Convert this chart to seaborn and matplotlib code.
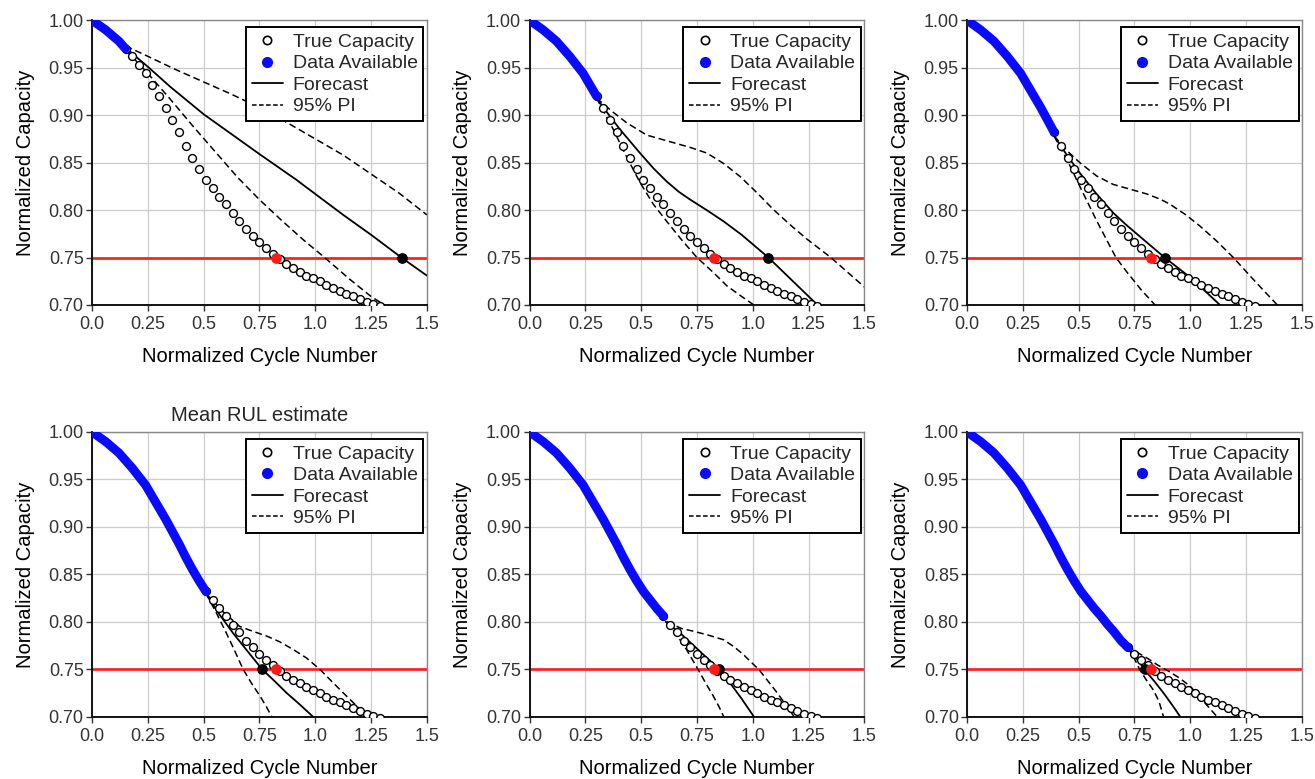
import numpy as np
import pandas as pd
import matplotlib
matplotlib.use("Agg")
import matplotlib.pyplot as plt
from matplotlib.lines import Line2D
import seaborn as sns

# ------------------------------------------------------------
# data
# ------------------------------------------------------------
TRUE_X = [0.00, 0.03, 0.06, 0.09, 0.12, 0.15, 0.18, 0.21, 0.24, 0.27,
          0.30, 0.33, 0.36, 0.39, 0.42, 0.45, 0.48, 0.51, 0.54, 0.57,
          0.60, 0.63, 0.66, 0.69, 0.72, 0.75, 0.78, 0.81, 0.84, 0.87,
          0.90, 0.93, 0.96, 0.99, 1.02, 1.05, 1.08, 1.11, 1.14, 1.17,
          1.20, 1.23, 1.26, 1.29]
TRUE_Y = [1.000, 0.995, 0.990, 0.984, 0.978, 0.970, 0.962, 0.953, 0.944, 0.932,
          0.920, 0.908, 0.895, 0.882, 0.868, 0.855, 0.843, 0.832, 0.823, 0.814,
          0.806, 0.797, 0.789, 0.780, 0.773, 0.766, 0.760, 0.754, 0.748, 0.743,
          0.739, 0.735, 0.731, 0.728, 0.725, 0.721, 0.718, 0.715, 0.712, 0.709,
          0.706, 0.703, 0.701, 0.699]

# last cycle with data available, one per panel
CUTOFF = [0.15, 0.30, 0.39, 0.51, 0.60, 0.72]

THRESHOLD = 0.75
TRUE_EOL = 0.826          # true end of life (red dot)
MEAN_EOL = [1.39, 1.07, 0.885, 0.762, 0.85, 0.795]   # forecast end of life (black dot)

FORECAST_X = [
    [0.15, 0.25, 0.35, 0.50, 0.625, 0.75, 0.915, 1.00, 1.125, 1.25, 1.386, 1.50],
    [0.30, 0.35, 0.405, 0.495, 0.555, 0.615, 0.67, 0.72, 0.80, 0.87, 0.95, 1.07, 1.18, 1.29],
    [0.39, 0.45, 0.505, 0.58, 0.655, 0.715, 0.775, 0.885, 0.94, 1.00, 1.065, 1.133],
    [0.51, 0.57, 0.632, 0.70, 0.762, 0.82, 0.872, 0.93, 0.99],
    [0.61, 0.675, 0.735, 0.79, 0.85, 0.90, 0.95, 1.005],
    [0.715, 0.757, 0.797, 0.84, 0.88, 0.92, 0.955],
]
FORECAST_Y = [
    [0.971, 0.951, 0.930, 0.901, 0.880, 0.859, 0.832, 0.817, 0.795, 0.774, 0.750, 0.731],
    [0.918, 0.902, 0.885, 0.860, 0.844, 0.830, 0.819, 0.811, 0.799, 0.788, 0.774, 0.750, 0.725, 0.700],
    [0.878, 0.857, 0.839, 0.817, 0.797, 0.784, 0.772, 0.750, 0.740, 0.729, 0.715, 0.700],
    [0.830, 0.808, 0.788, 0.768, 0.750, 0.737, 0.725, 0.713, 0.700],
    [0.800, 0.788, 0.775, 0.763, 0.750, 0.735, 0.719, 0.700],
    [0.774, 0.762, 0.749, 0.737, 0.725, 0.712, 0.700],
]

UPPER_X = [
    [0.15, 0.25, 0.375, 0.50, 0.625, 0.75, 0.875, 1.00, 1.125, 1.25, 1.375, 1.50],
    [0.30, 0.375, 0.435, 0.525, 0.645, 0.72, 0.795, 0.87, 0.945, 1.02, 1.095, 1.17, 1.245, 1.35, 1.50],
    [0.39, 0.45, 0.505, 0.58, 0.655, 0.73, 0.805, 0.87, 0.91, 0.98, 1.044, 1.12, 1.193, 1.29, 1.39],
    [0.51, 0.58, 0.662, 0.72, 0.782, 0.84, 0.90, 0.96, 1.02, 1.075, 1.126, 1.20, 1.24],
    [0.615, 0.68, 0.735, 0.80, 0.87, 0.92, 0.96, 1.03, 1.07, 1.11, 1.15, 1.185],
    [0.72, 0.76, 0.805, 0.85, 0.895, 0.95, 1.00, 1.06, 1.12],
]
UPPER_Y = [
    [0.973, 0.962, 0.948, 0.935, 0.922, 0.908, 0.892, 0.875, 0.858, 0.838, 0.818, 0.795],
    [0.918, 0.903, 0.892, 0.879, 0.871, 0.866, 0.860, 0.849, 0.835, 0.818, 0.800, 0.784, 0.769, 0.750, 0.719],
    [0.878, 0.862, 0.850, 0.836, 0.827, 0.822, 0.817, 0.811, 0.806, 0.795, 0.783, 0.767, 0.750, 0.725, 0.700],
    [0.830, 0.812, 0.795, 0.790, 0.785, 0.779, 0.771, 0.762, 0.750, 0.737, 0.725, 0.708, 0.700],
    [0.800, 0.793, 0.790, 0.786, 0.781, 0.773, 0.765, 0.749, 0.737, 0.725, 0.712, 0.700],
    [0.775, 0.768, 0.762, 0.755, 0.749, 0.741, 0.732, 0.716, 0.700],
]

LOWER_X = [
    [0.15, 0.25, 0.35, 0.45, 0.55, 0.65, 0.75, 0.85, 0.95, 1.042, 1.15, 1.25, 1.31],
    [0.30, 0.375, 0.435, 0.495, 0.555, 0.615, 0.68, 0.75, 0.82, 0.885, 0.95, 1.005],
    [0.39, 0.45, 0.505, 0.58, 0.62, 0.667, 0.715, 0.78, 0.842],
    [0.51, 0.56, 0.602, 0.64, 0.677, 0.715, 0.752, 0.78, 0.805],
    [0.615, 0.66, 0.705, 0.757, 0.79, 0.825, 0.85, 0.87],
    [0.72, 0.75, 0.775, 0.805, 0.835, 0.86, 0.88],
]
LOWER_Y = [
    [0.969, 0.944, 0.917, 0.889, 0.862, 0.835, 0.811, 0.789, 0.768, 0.750, 0.728, 0.709, 0.700],
    [0.918, 0.885, 0.856, 0.829, 0.806, 0.788, 0.769, 0.750, 0.735, 0.720, 0.709, 0.700],
    [0.878, 0.852, 0.825, 0.789, 0.771, 0.750, 0.735, 0.716, 0.700],
    [0.830, 0.808, 0.788, 0.769, 0.750, 0.735, 0.722, 0.711, 0.700],
    [0.800, 0.786, 0.770, 0.749, 0.735, 0.721, 0.710, 0.700],
    [0.773, 0.761, 0.749, 0.738, 0.728, 0.716, 0.700],
]

X_TICKS = [0.0, 0.25, 0.5, 0.75, 1.0, 1.25, 1.5]
X_TICK_LABELS = ['0.0', '0.25', '0.5', '0.75', '1.0', '1.25', '1.5']
Y_TICKS = [0.70, 0.75, 0.80, 0.85, 0.90, 0.95, 1.00]
Y_TICK_LABELS = ['0.70', '0.75', '0.80', '0.85', '0.90', '0.95', '1.00']

# ------------------------------------------------------------
# style
# ------------------------------------------------------------
sns.set_theme(style="whitegrid")
plt.rcParams['font.family'] = ['Liberation Sans', 'DejaVu Sans']
plt.rcParams['axes.unicode_minus'] = False

true_df = pd.DataFrame({'x': TRUE_X, 'y': TRUE_Y})

fig, axes = plt.subplots(2, 3, figsize=(13.15, 7.79), dpi=100)
fig.subplots_adjust(left=0.070, right=0.990, top=0.974, bottom=0.080, wspace=0.307, hspace=0.446)

for i, ax in enumerate(axes.flat):
    cut = CUTOFF[i]
    seen = true_df[true_df['x'] <= cut + 1e-9]
    unseen = true_df[true_df['x'] >= cut - 1e-9]

    # threshold
    ax.axhline(THRESHOLD, color='#ff1a1a', lw=1.9, zorder=2)

    # forecast + prediction interval
    sns.lineplot(x=LOWER_X[i], y=LOWER_Y[i], ax=ax, color='black', lw=1.1,
                 sort=False, estimator=None, zorder=3).lines[-1].set_dashes((4.5, 2.5))
    sns.lineplot(x=UPPER_X[i], y=UPPER_Y[i], ax=ax, color='black', lw=1.1,
                 sort=False, estimator=None, zorder=3).lines[-1].set_dashes((4.5, 2.5))
    sns.lineplot(x=FORECAST_X[i], y=FORECAST_Y[i], ax=ax, color='black', lw=1.3,
                 sort=False, estimator=None, zorder=3)

    # true capacity (open circles)
    sns.scatterplot(data=unseen, x='x', y='y', ax=ax, marker='o', s=32,
                    facecolor='white', edgecolor='black', linewidth=1.0, zorder=4)

    # data available (dense blue)
    sns.lineplot(data=seen, x='x', y='y', ax=ax, color='#0a0aff', lw=6.4,
                 sort=False, estimator=None, zorder=5).lines[-1].set_solid_capstyle('round')

    # end of life points
    sns.scatterplot(x=[MEAN_EOL[i]], y=[THRESHOLD], ax=ax, color='black', s=60,
                    linewidth=0, zorder=6)
    sns.scatterplot(x=[TRUE_EOL], y=[THRESHOLD], ax=ax, color='#ff1a1a', s=60,
                    linewidth=0, zorder=7)

    ax.set_xlim(0, 1.5)
    ax.set_ylim(0.70, 1.00)
    ax.set_xticks(X_TICKS)
    ax.set_xticklabels(X_TICK_LABELS)
    ax.set_yticks(Y_TICKS)
    ax.set_yticklabels(Y_TICK_LABELS)
    ax.tick_params(axis='both', labelsize=13, colors='#333333', length=4, width=1,
                   direction='out', pad=2, left=True, bottom=True)
    ax.tick_params(axis='x', pad=4)
    ax.grid(True, color='#cccccc', lw=0.9)
    for side in ['left', 'bottom']:
        ax.spines[side].set_color('#111111')
        ax.spines[side].set_linewidth(1.4)
    for side in ['top', 'right']:
        ax.spines[side].set_color('#888888')
        ax.spines[side].set_linewidth(1.0)
    ax.set_xlabel('Normalized Cycle Number', fontsize=14.5, labelpad=10, color='black')
    ax.set_ylabel('Normalized Capacity', fontsize=14.5, labelpad=10, color='black')

    handles = [
        Line2D([], [], ls='none', marker='o', markersize=6, markerfacecolor='white',
               markeredgecolor='black', markeredgewidth=1.2),
        Line2D([], [], ls='none', marker='o', markersize=7, markerfacecolor='#0a0aff',
               markeredgecolor='#0a0aff'),
        Line2D([], [], color='black', lw=1.3),
        Line2D([], [], color='black', lw=1.1, ls=(0, (3, 1.6))),
    ]
    leg = ax.legend(handles, ['True Capacity', 'Data Available', 'Forecast', '95% PI'],
                    loc='upper right', bbox_to_anchor=(0.99, 0.975), fontsize=14,
                    frameon=True, fancybox=False, framealpha=1, edgecolor='black',
                    borderpad=0.3, labelspacing=0.2, handlelength=1.6, handletextpad=0.5,
                    borderaxespad=0)
    leg.get_frame().set_linewidth(1.4)

axes[1, 0].set_title('Mean RUL estimate', fontsize=14.5, pad=8)

fig.savefig('out.png', dpi=100)
